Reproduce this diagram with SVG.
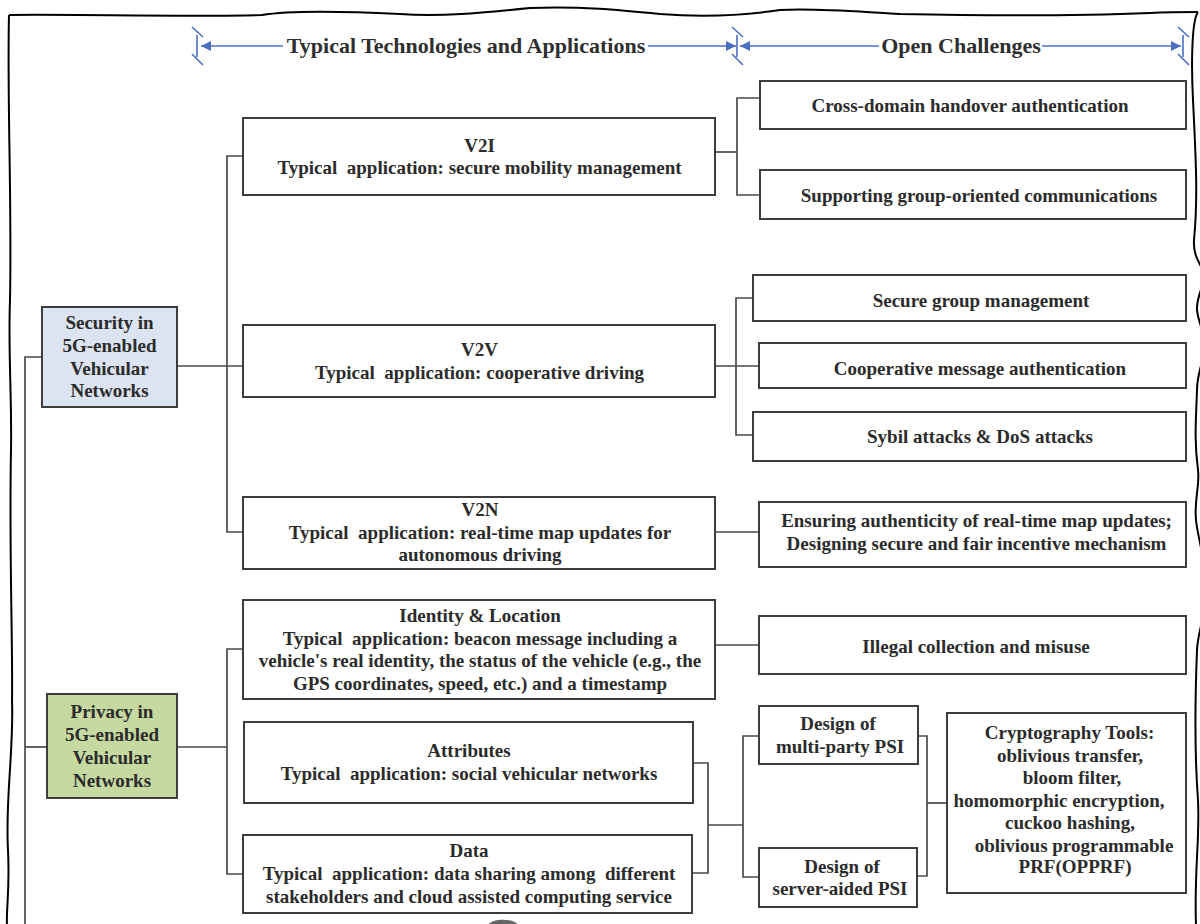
<svg xmlns="http://www.w3.org/2000/svg" width="1200" height="924" viewBox="0 0 1200 924">
  <defs>
    <style>
      .box { fill: #ffffff; stroke: #3d3d3d; stroke-width: 2; }
      .sec { fill: #dbe4f0; stroke: #3d3d3d; stroke-width: 2; }
      .prv { fill: #c6d9a1; stroke: #3d3d3d; stroke-width: 2; }
      .wire { fill: none; stroke: #4a4a4a; stroke-width: 1.7; }
      .frame { fill: none; stroke: #000000; stroke-width: 2; stroke-linejoin: round; }
      .scale { fill: none; stroke: #4a6fc0; stroke-width: 1.6; }
      text { font-family: "Liberation Serif", "Times New Roman", serif; font-weight: bold; fill: #2b2b2b; text-anchor: middle; white-space: pre; }
      .t { font-size: 19px; }
      .h { font-size: 22px; fill: #2f2f2f; }
    </style>
    <marker id="arrow" viewBox="0 0 10 10" refX="10" refY="5" markerWidth="11" markerHeight="10" markerUnits="userSpaceOnUse" orient="auto">
      <path d="M0,0 L10,5 L0,10 Z" fill="#4a6fc0"/>
    </marker>
    <g id="tick" class="scale">
      <path d="M-5,27 L6,37 M0,35 V57 M-5,54 L6,65"/>
    </g>
  </defs>

  <!-- hand-drawn frame -->
  <g id="frame">
    <path class="frame" d="M9,15 C 60,14 200,17 262,15 C 285,11 320,10 400,14 C 440,17 480,13 530,8 C 580,6 620,10 660,14 C 700,17 740,16 780,10 C 820,8 860,12 900,14 C 1000,16 1100,15 1150,13 C 1170,12 1185,12 1198,12"/>
    <path class="frame" d="M9,15 C 7,100 12,200 10,300 C 8,350 12,400 11,450 C 9,550 13,650 12,700 C 14,750 5,800 8,850 C 10,890 6,910 7,926"/>
    <path class="frame" d="M1198,12 C 1192,20 1191,60 1193,100 C 1196,160 1198,200 1194,240 C 1193,255 1199,262 1204,272 C 1206,285 1196,295 1197,310 C 1198,322 1204,330 1205,345 C 1204,362 1197,372 1197,390 C 1196,420 1194,440 1198,470 C 1200,485 1194,500 1196,520 C 1198,540 1206,560 1206,590 C 1206,615 1198,630 1197,650 C 1195,700 1195,760 1198,800 C 1200,840 1194,870 1196,926"/>
  </g>

  <!-- column scale bar -->
  <g id="scale-bar">
    <path class="scale" d="M283,46 H201" marker-end="url(#arrow)"/>
    <path class="scale" d="M648,46 H736" marker-end="url(#arrow)"/>
    <path class="scale" d="M879,46 H740" marker-end="url(#arrow)"/>
    <path class="scale" d="M1042,46 H1181" marker-end="url(#arrow)"/>
    <use href="#tick" x="197" y="0"/>
    <use href="#tick" x="737" y="0"/>
    <use href="#tick" x="1183" y="0"/>
    <text class="h" x="466" y="53">Typical Technologies and Applications</text>
    <text class="h" x="961" y="53">Open Challenges</text>
  </g>

  <!-- connectors -->
  <g id="connectors">
    <path class="wire" d="M42,357 H25 V926"/>
    <path class="wire" d="M25,747 H47"/>
    <path class="wire" d="M177,366 H243"/>
    <path class="wire" d="M243,156 H227 V532 H243"/>
    <path class="wire" d="M715,152 H737"/>
    <path class="wire" d="M760,98 H737 V195 H760"/>
    <path class="wire" d="M715,366 H759"/>
    <path class="wire" d="M753,298 H736 V435 H753"/>
    <path class="wire" d="M715,532 H760"/>
    <path class="wire" d="M715,645 H760"/>
    <path class="wire" d="M177,747 H227"/>
    <path class="wire" d="M243,649 H227 V874 H243"/>
    <path class="wire" d="M693,763 H708 V873 H692"/>
    <path class="wire" d="M708,825 H743"/>
    <path class="wire" d="M759,736 H743 V877 H759"/>
    <path class="wire" d="M918,736 H927 V876 H917"/>
    <path class="wire" d="M927,803 H947"/>
  </g>

  <!-- root nodes -->
  <g id="security">
    <rect class="sec" x="42" y="307" width="135" height="100"/>
    <text class="t" x="109.5" y="329">Security in</text>
    <text class="t" x="109.5" y="352">5G-enabled</text>
    <text class="t" x="109.5" y="375">Vehicular</text>
    <text class="t" x="109.5" y="397">Networks</text>
  </g>
  <g id="privacy">
    <rect class="prv" x="47" y="694" width="130" height="104"/>
    <text class="t" x="112" y="718">Privacy in</text>
    <text class="t" x="112" y="741">5G-enabled</text>
    <text class="t" x="112" y="764">Vehicular</text>
    <text class="t" x="112" y="787">Networks</text>
  </g>

  <!-- technologies and applications -->
  <g id="v2i">
    <rect class="box" x="243" y="118" width="472" height="77"/>
    <text class="t" x="479.5" y="152">V2I</text>
    <text class="t" x="479.5" y="174">Typical  application: secure mobility management</text>
  </g>
  <g id="v2v">
    <rect class="box" x="243" y="325" width="472" height="72"/>
    <text class="t" x="479.5" y="356">V2V</text>
    <text class="t" x="479.5" y="379">Typical  application: cooperative driving</text>
  </g>
  <g id="v2n">
    <rect class="box" x="243" y="497" width="472" height="72"/>
    <text class="t" x="480" y="516">V2N</text>
    <text class="t" x="480" y="539">Typical  application: real-time map updates for</text>
    <text class="t" x="480" y="561">autonomous driving</text>
  </g>
  <g id="identity">
    <rect class="box" x="243" y="600" width="472" height="99"/>
    <text class="t" x="480" y="622">Identity &amp; Location</text>
    <text class="t" x="480" y="645">Typical  application: beacon message including a</text>
    <text class="t" x="480" y="667">vehicle's real identity, the status of the vehicle (e.g., the</text>
    <text class="t" x="480" y="690">GPS coordinates, speed, etc.) and a timestamp</text>
  </g>
  <g id="attributes">
    <rect class="box" x="244" y="722" width="449" height="81"/>
    <text class="t" x="469" y="757">Attributes</text>
    <text class="t" x="469" y="780">Typical  application: social vehicular networks</text>
  </g>
  <g id="data">
    <rect class="box" x="243" y="835" width="449" height="78"/>
    <text class="t" x="469" y="857">Data</text>
    <text class="t" x="469" y="880">Typical  application: data sharing among  different</text>
    <text class="t" x="469" y="903">stakeholders and cloud assisted computing service</text>
  </g>

  <!-- open challenges -->
  <g id="cross-domain">
    <rect class="box" x="760" y="81" width="426" height="48"/>
    <text class="t" x="970" y="112">Cross-domain handover authentication</text>
  </g>
  <g id="group-comm">
    <rect class="box" x="760" y="170" width="426" height="49"/>
    <text class="t" x="979" y="202">Supporting group-oriented communications</text>
  </g>
  <g id="group-mgmt">
    <rect class="box" x="753" y="275" width="433" height="46"/>
    <text class="t" x="981" y="307">Secure group management</text>
  </g>
  <g id="coop-auth">
    <rect class="box" x="759" y="343" width="427" height="45"/>
    <text class="t" x="980" y="375">Cooperative message authentication</text>
  </g>
  <g id="sybil">
    <rect class="box" x="753" y="412" width="433" height="49"/>
    <text class="t" x="980" y="443">Sybil attacks &amp; DoS attacks</text>
  </g>
  <g id="map-updates">
    <rect class="box" x="759" y="502" width="427" height="65"/>
    <text class="t" x="976.5" y="527">Ensuring authenticity of real-time map updates;</text>
    <text class="t" x="976.5" y="550">Designing secure and fair incentive mechanism</text>
  </g>
  <g id="illegal">
    <rect class="box" x="759" y="616" width="427" height="58"/>
    <text class="t" x="976" y="653">Illegal collection and misuse</text>
  </g>
  <g id="multi-party">
    <rect class="box" x="759" y="706" width="159" height="58"/>
    <text class="t" x="838" y="730">Design of</text>
    <text class="t" x="840" y="753">multi-party PSI</text>
  </g>
  <g id="server-aided">
    <rect class="box" x="759" y="848" width="158" height="59"/>
    <text class="t" x="842" y="873">Design of</text>
    <text class="t" x="840" y="895">server-aided PSI</text>
  </g>
  <g id="crypto-tools">
    <rect class="box" x="947" y="713" width="239" height="180"/>
    <text class="t" x="1069.5" y="739">Cryptography Tools:</text>
    <text class="t" x="1070" y="762">oblivious transfer,</text>
    <text class="t" x="1072" y="784">bloom filter,</text>
    <text class="t" x="1059" y="807">homomorphic encryption,</text>
    <text class="t" x="1070" y="829">cuckoo hashing,</text>
    <text class="t" x="1074" y="852">oblivious programmable</text>
    <text class="t" x="1075" y="873">PRF(OPPRF)</text>
  </g>

  <!-- edge of a shape below the frame -->
  <path d="M488,925 C 492,918 514,918 518,925 Z" fill="#666666"/>
</svg>
